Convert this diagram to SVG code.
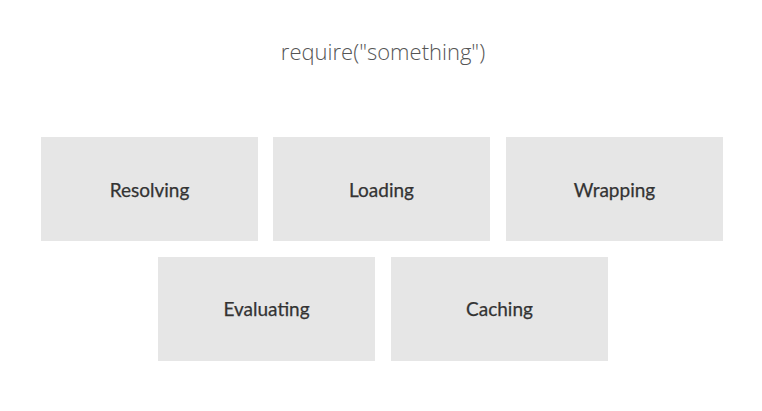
<svg xmlns="http://www.w3.org/2000/svg" width="762" height="411" viewBox="0 0 762 411">
<style>
.box{fill:#e6e6e6}
.lbl{font-family:Lato,"Open Sans",sans-serif;font-size:19px;fill:#333;stroke:#333;stroke-width:0.25;text-anchor:middle;dominant-baseline:central}
.title{font-family:"Open Sans",Lato,sans-serif;font-weight:300;font-size:22px;fill:#555;text-anchor:middle;dominant-baseline:central}
</style>
<rect width="762" height="411" fill="#fff"/>
<text class="title" x="383" y="51">require("something")</text>
<g id="connectors"></g>
<g id="resolving"><rect class="box" x="41" y="137" width="217" height="104"/><text class="lbl" x="149.5" y="189">Resolving</text></g>
<g id="loading"><rect class="box" x="273" y="137" width="217" height="104"/><text class="lbl" x="381.5" y="189">Loading</text></g>
<g id="wrapping"><rect class="box" x="506" y="137" width="217" height="104"/><text class="lbl" x="614.5" y="189">Wrapping</text></g>
<g id="evaluating"><rect class="box" x="158" y="257" width="217" height="104"/><text class="lbl" x="266.5" y="308">Evaluating</text></g>
<g id="caching"><rect class="box" x="391" y="257" width="217" height="104"/><text class="lbl" x="499.5" y="308">Caching</text></g>
</svg>
